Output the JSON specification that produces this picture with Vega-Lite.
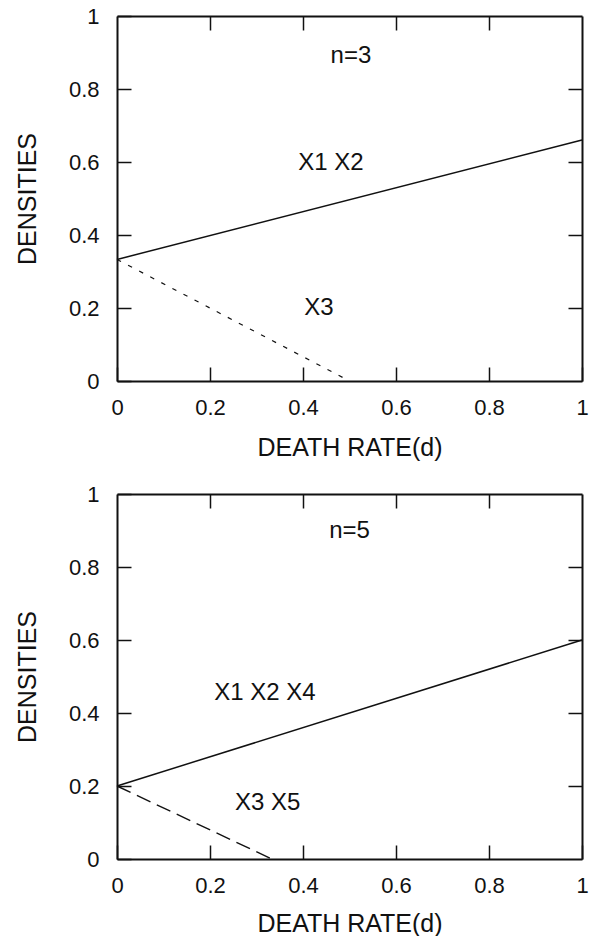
{
  "$schema": "https://vega.github.io/schema/vega-lite/v6.json",
  "padding": {"left": 15, "top": 5, "right": 5, "bottom": 0},
  "background": "white",
  "spacing": 23,
  "datasets": {
    "lines3": [
      {"series": "X1 X2", "d": 0, "density": 0.333},
      {"series": "X1 X2", "d": 1, "density": 0.66},
      {"series": "X3", "d": 0, "density": 0.333},
      {"series": "X3", "d": 0.5, "density": 0}
    ],
    "labels3": [
      {"d": 0.503, "density": 0.89, "label": "n=3"},
      {"d": 0.46, "density": 0.598, "label": "X1 X2"},
      {"d": 0.434, "density": 0.2, "label": "X3"}
    ],
    "lines5": [
      {"series": "X1 X2 X4", "d": 0, "density": 0.2},
      {"series": "X1 X2 X4", "d": 1, "density": 0.6},
      {"series": "X3 X5", "d": 0, "density": 0.2},
      {"series": "X3 X5", "d": 0.333, "density": 0}
    ],
    "labels5": [
      {"d": 0.5, "density": 0.898, "label": "n=5"},
      {"d": 0.318, "density": 0.455, "label": "X1 X2 X4"},
      {"d": 0.324, "density": 0.154, "label": "X3 X5"}
    ]
  },
  "vconcat": [
    {
      "width": 465,
      "height": 365,
      "resolve": {"axis": {"x": "independent", "y": "independent"}},
      "layer": [
        {
          "data": {"name": "lines3"},
          "transform": [{"filter": "datum.series == 'X1 X2'"}],
          "mark": {"type": "line", "color": "#111", "strokeWidth": 1.5},
          "encoding": {
            "x": {"field": "d", "type": "quantitative", "scale": {"domain": [0, 1], "nice": false},
                  "axis": {"title": "DEATH RATE(d)", "titlePadding": 17, "values": [0, 0.2, 0.4, 0.6, 0.8, 1], "format": "~g"}},
            "y": {"field": "density", "type": "quantitative", "scale": {"domain": [0, 1], "nice": false},
                  "axis": {"title": "DENSITIES", "values": [0, 0.2, 0.4, 0.6, 0.8, 1], "format": "~g"}}
          }
        },
        {
          "data": {"name": "lines3"},
          "transform": [{"filter": "datum.series == 'X3'"}],
          "mark": {"type": "line", "color": "#111", "strokeWidth": 1.2, "strokeDash": [4.5, 8]},
          "encoding": {
            "x": {"field": "d", "type": "quantitative", "axis": null},
            "y": {"field": "density", "type": "quantitative", "axis": null}
          }
        },
        {
          "data": {"name": "labels3"},
          "mark": {"type": "text", "font": "Liberation Sans", "fontSize": 24, "color": "#111"},
          "encoding": {
            "x": {"field": "d", "type": "quantitative",
                  "axis": {"orient": "top", "labels": false, "title": null, "values": [0.2, 0.4, 0.6, 0.8]}},
            "y": {"field": "density", "type": "quantitative",
                  "axis": {"orient": "right", "labels": false, "title": null, "values": [0.2, 0.4, 0.6, 0.8]}},
            "text": {"field": "label"}
          }
        }
      ]
    },
    {
      "width": 465,
      "height": 365,
      "resolve": {"axis": {"x": "independent", "y": "independent"}},
      "layer": [
        {
          "data": {"name": "lines5"},
          "transform": [{"filter": "datum.series == 'X1 X2 X4'"}],
          "mark": {"type": "line", "color": "#111", "strokeWidth": 1.5},
          "encoding": {
            "x": {"field": "d", "type": "quantitative", "scale": {"domain": [0, 1], "nice": false},
                  "axis": {"title": "DEATH RATE(d)", "values": [0, 0.2, 0.4, 0.6, 0.8, 1], "format": "~g"}},
            "y": {"field": "density", "type": "quantitative", "scale": {"domain": [0, 1], "nice": false},
                  "axis": {"title": "DENSITIES", "values": [0, 0.2, 0.4, 0.6, 0.8, 1], "format": "~g"}}
          }
        },
        {
          "data": {"name": "lines5"},
          "transform": [{"filter": "datum.series == 'X3 X5'"}],
          "mark": {"type": "line", "color": "#111", "strokeWidth": 1.4, "strokeDash": [15, 7]},
          "encoding": {
            "x": {"field": "d", "type": "quantitative", "axis": null},
            "y": {"field": "density", "type": "quantitative", "axis": null}
          }
        },
        {
          "data": {"name": "labels5"},
          "mark": {"type": "text", "font": "Liberation Sans", "fontSize": 24, "color": "#111"},
          "encoding": {
            "x": {"field": "d", "type": "quantitative",
                  "axis": {"orient": "top", "labels": false, "title": null, "values": [0.2, 0.4, 0.6, 0.8]}},
            "y": {"field": "density", "type": "quantitative",
                  "axis": {"orient": "right", "labels": false, "title": null, "values": [0.2, 0.4, 0.6, 0.8]}},
            "text": {"field": "label"}
          }
        }
      ]
    }
  ],
  "config": {
    "view": {"stroke": null},
    "axis": {
      "grid": false,
      "domainColor": "#111",
      "domainWidth": 2,
      "tickColor": "#111",
      "tickWidth": 1.5,
      "tickSize": -14,
      "labelFlush": false,
      "labelOverlap": false,
      "labelFont": "Liberation Sans",
      "labelFontSize": 22,
      "labelColor": "#111",
      "titleFont": "Liberation Sans",
      "titleFontSize": 25,
      "titleFontWeight": "normal",
      "titleColor": "#111"
    },
    "axisBottom": {"labelPadding": 30, "titlePadding": 15},
    "axisLeft": {"labelPadding": 32, "titlePadding": 28}
  }
}
